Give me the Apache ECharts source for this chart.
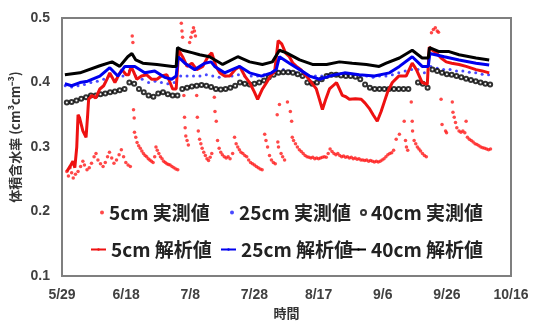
<!DOCTYPE html>
<html>
<head>
<meta charset="utf-8">
<script src="https://cdn.jsdelivr.net/npm/echarts@6/dist/echarts.min.js"></script>
<style>
  html, body { margin: 0; padding: 0; background: #fff; }
  #chart { width: 533px; height: 325px; }
</style>
</head>
<body>
<div id="chart"></div>
<script>
// x = days since 5/29
var dateLabels = ['5/29', '6/18', '7/8', '7/28', '8/17', '9/6', '9/26', '10/16'];
var yTicks = [0.1, 0.2, 0.3, 0.4, 0.5];

// 5cm measured (red dots)
var obs5 = [
  [1.5,0.262],[2,0.255],[2.5,0.268],[3,0.26],[3.5,0.252],[4.2,0.258],[5,0.262],[5.8,0.27],[6.5,0.278],[7,0.272],
  [7.8,0.265],[8.5,0.268],[9.2,0.275],[10,0.285],[10.6,0.29],[11.2,0.28],[12,0.274],[12.8,0.27],[13.5,0.276],[14.2,0.285],
  [14.8,0.292],[15.5,0.283],[16.2,0.275],[17,0.28],[17.8,0.288],[18.5,0.296],[19.2,0.285],[19.9,0.276],[20.6,0.272],[21.3,0.27],
  [21.9,0.472],[22.1,0.462],[22.3,0.358],[22.5,0.345],[22.6,0.323],[23,0.315],[23.4,0.307],[23.9,0.302],[24.4,0.298],[24.9,0.294],
  [25.4,0.29],[25.9,0.287],[26.4,0.285],[26.9,0.282],[27.4,0.28],[27.9,0.278],[28.4,0.276],[28.9,0.285],[29.3,0.30],[29.7,0.295],
  [30.2,0.29],[30.7,0.285],[31.2,0.282],[31.7,0.278],[32.2,0.276],[32.7,0.274],[33.2,0.273],[33.7,0.272],[34.3,0.27],[34.9,0.268],
  [35.5,0.266],[36.1,0.265],
  [37.2,0.492],[37.4,0.48],[37.6,0.47],[38,0.38],[38.2,0.346],[38.4,0.33],[38.6,0.317],[39,0.31],[39.4,0.303],
  [39.8,0.462],[40.2,0.47],[40.6,0.478],[41,0.485],[41.3,0.48],[41.6,0.472],[42,0.38],[42.2,0.346],[42.5,0.325],[42.9,0.312],
  [43.3,0.305],[43.7,0.298],[44.2,0.292],[44.7,0.287],[45.2,0.282],[45.7,0.279],[46.2,0.284],[46.7,0.29],
  [47.5,0.377],[47.7,0.355],[48.1,0.34],[48.5,0.31],[49,0.298],[49.5,0.292],[50,0.288],[50.6,0.285],[51.2,0.283],[51.8,0.285],
  [52.4,0.282],[53.2,0.29],[53.8,0.315],[54.3,0.305],[54.8,0.3],[55.3,0.296],[55.8,0.292],[56.4,0.29],[57,0.287],[57.6,0.285],
  [58.2,0.28],[58.8,0.276],[59.4,0.274],[60,0.272],[60.6,0.27],[61.2,0.268],[61.8,0.266],[62.4,0.265],[63.2,0.32],[63.6,0.31],
  [64.1,0.30],[64.7,0.287],[65.3,0.28],[65.9,0.276],[66.5,0.274],[67.1,0.35],[67.3,0.308],[67.5,0.30],[67.8,0.366],[68.3,0.29],
  [68.8,0.285],[69.4,0.28],
  [70.3,0.37],[71.2,0.355],[71.6,0.34],[71.8,0.315],[72.2,0.31],[72.8,0.305],[73.4,0.30],[74,0.296],[74.6,0.293],[75.2,0.29],
  [75.8,0.287],[76.4,0.285],[77,0.284],[77.6,0.283],[78.2,0.284],[78.8,0.282],[79.4,0.283],[80,0.282],[80.6,0.283],[81.2,0.284],
  [81.8,0.285],[82.4,0.284],[83,0.29],[83.6,0.297],[84.2,0.293],[84.8,0.29],[85.4,0.288],[86,0.29],[86.6,0.287],[87.2,0.285],
  [87.8,0.286],[88.4,0.284],[89,0.285],[89.6,0.283],[90.2,0.284],[90.8,0.282],[91.4,0.283],[92,0.281],[92.6,0.282],[93.2,0.28],
  [93.8,0.28],[94.4,0.279],[95,0.28],[95.6,0.278],[96.2,0.279],[96.8,0.278],[97.4,0.277],[98,0.278],[98.6,0.277],[99.2,0.278],
  [99.8,0.28],[100.4,0.282],[101,0.285],[101.6,0.288],[102.2,0.29],[102.8,0.291],[103.4,0.295],[104.2,0.312],[105.2,0.32],[106.7,0.34],
  [107.1,0.31],[107.4,0.30],[107.8,0.295],[108.9,0.37],[109.2,0.34],[109.3,0.325],[109.8,0.31],[110.3,0.305],[110.8,0.30],[111.3,0.297],
  [111.8,0.294],[112.4,0.29],[113,0.287],[113.6,0.285],
  [115.2,0.477],[115.8,0.482],[116.4,0.485],[117,0.48],[117.4,0.478],[118.2,0.374],[118.5,0.335],[119.6,0.325],[119.9,0.322],
  [121.7,0.37],[121.9,0.354],[122.3,0.346],[122.7,0.338],[123.1,0.33],[123.8,0.325],[124.4,0.323],[125,0.325],[125.6,0.322],[126,0.34],
  [126.4,0.315],[127,0.312],[127.6,0.31],[128.2,0.308],[128.8,0.305],[129.4,0.304],[130,0.302],[130.6,0.30],[131.2,0.299],[131.8,0.298],
  [132.4,0.297],[133,0.296],[133.6,0.297]
];

// 25cm measured (blue dots)
var obs25 = [
  [1,0.395],[3,0.393],[5,0.395],[7,0.397],[9,0.40],[11,0.402],[13,0.405],[15,0.41],[17,0.405],[19,0.41],
  [21,0.418],[23,0.41],[25,0.405],[27,0.40],[29,0.402],[31,0.40],[33,0.398],[35,0.40],[37,0.41],[39,0.41],
  [41,0.41],[43,0.41],[45,0.412],[47,0.41],[49,0.408],[51,0.41],[53,0.41],[55,0.412],[57,0.41],[59,0.41],
  [61,0.41],[63,0.412],[65,0.413],[67,0.418],[69,0.42],[71,0.418],[73,0.415],[75,0.412],[77,0.41],[79,0.41],
  [81,0.41],[83,0.412],[85,0.413],[87,0.413],[89,0.412],[91,0.412],[93,0.41],[95,0.41],[97,0.408],[99,0.41],
  [101,0.41],[103,0.412],[105,0.415],[107,0.418],[109,0.42],[111,0.42],[113,0.415],[115,0.425],[117,0.422],[119,0.42],
  [121,0.42],[123,0.418],[125,0.418],[127,0.416],[129,0.415],[131,0.413],[133,0.412]
];

// 40cm measured (open circles)
var obs40 = [
  [1.5,0.369],[3,0.37],[4.5,0.372],[6,0.375],[7.5,0.377],[9,0.38],[10.5,0.38],[12,0.382],[13.5,0.383],[15,0.385],
  [16.5,0.386],[18,0.388],[19.5,0.39],[21,0.40],[22.5,0.398],[24,0.39],[25.5,0.385],[27,0.38],[28.5,0.378],[30,0.383],
  [31.5,0.385],[33,0.382],[34.5,0.38],[36,0.38],[37.5,0.39],[39,0.392],[40.5,0.394],[42,0.395],[43.5,0.396],[45,0.395],
  [46.5,0.393],[48,0.39],[49.5,0.389],[51,0.39],[52.5,0.392],[54,0.395],[55.5,0.40],[57,0.398],[58.5,0.397],[60,0.398],
  [61.5,0.40],[63,0.403],[64.5,0.408],[66,0.412],[67.5,0.415],[69,0.416],[70.5,0.416],[72,0.415],[73.5,0.413],[75,0.41],
  [76.5,0.40],[78,0.398],[79.5,0.40],[81,0.405],[82.5,0.41],[84,0.412],[85.5,0.412],[87,0.411],[88.5,0.41],[90,0.41],
  [91.5,0.409],[93,0.405],[94.5,0.397],[96,0.392],[97.5,0.39],[99,0.39],[100.5,0.39],[102,0.39],[103.5,0.39],[105,0.39],
  [106.5,0.39],[108,0.39],[111,0.40],[112.5,0.398],[114,0.392],[115.5,0.42],[117,0.418],[118.5,0.415],[120,0.413],[121.5,0.412],
  [123,0.41],[124.5,0.408],[126,0.406],[127.5,0.404],[129,0.402],[130.5,0.40],[132,0.398],[133.5,0.397]
];

// simulated
var sim5 = [
  [1.5,0.262],[2.5,0.27],[3.4,0.278],[4.0,0.268],[4.6,0.30],[5.0,0.35],[5.5,0.345],[6.5,0.325],[7.5,0.315],[8.0,0.35],
  [8.3,0.374],[9.3,0.38],[10.5,0.376],[11.8,0.39],[13,0.395],[14.0,0.405],[14.9,0.415],[16.5,0.40],[17.5,0.41],[18.7,0.42],
  [20,0.412],[20.8,0.412],[21.5,0.425],[22.3,0.417],[23.3,0.405],[24.8,0.41],[26.4,0.412],[28,0.405],[29.6,0.405],[31,0.41],
  [32.7,0.412],[34.5,0.39],[35.6,0.39],[36.4,0.45],[37.6,0.44],[39,0.425],[40.5,0.43],[42,0.42],[43.9,0.425],[45.5,0.44],
  [46.7,0.446],[48,0.425],[49.2,0.415],[50.7,0.41],[52.3,0.41],[54,0.42],[55.4,0.425],[57,0.41],[58.5,0.40],[60,0.385],
  [61.0,0.374],[62.5,0.39],[63.8,0.40],[65,0.41],[66.3,0.417],[67.4,0.465],[68.5,0.46],[69.8,0.445],[70.9,0.44],[72,0.43],
  [73.1,0.425],[74.5,0.42],[76.2,0.41],[77.8,0.40],[79.3,0.39],[80.2,0.375],[81.2,0.358],[82.3,0.375],[83.4,0.39],[84.5,0.395],
  [85.6,0.40],[86.5,0.39],[87.4,0.38],[88.5,0.378],[89.6,0.374],[91.5,0.375],[93.3,0.374],[94.5,0.368],[95.8,0.36],[97,0.35],
  [98.3,0.34],[99.5,0.355],[100.5,0.37],[101.5,0.385],[103.0,0.40],[105,0.41],[107.3,0.41],[109.2,0.43],[110.5,0.42],[112.3,0.40],
  [113.9,0.397],[114.5,0.455],[115.5,0.45],[116.7,0.446],[118.2,0.438],[119.8,0.432],[121.5,0.43],[123.8,0.428],[126,0.425],[129.1,0.42],
  [131,0.418],[133.2,0.415]
];
var sim25 = [
  [0.9,0.398],[3,0.395],[5.6,0.40],[8,0.402],[11.8,0.41],[14.9,0.423],[17.4,0.41],[19.6,0.425],[22.7,0.425],[25.8,0.415],
  [28.9,0.418],[32.0,0.408],[34.2,0.405],[35.6,0.41],[36.2,0.44],[38.3,0.43],[41.4,0.42],[44.5,0.43],[46.5,0.432],[47.6,0.425],
  [50.7,0.415],[53,0.42],[55.4,0.425],[58.5,0.415],[62.2,0.41],[65.3,0.415],[66.8,0.42],[67.8,0.44],[70.9,0.43],[74.1,0.42],
  [77.2,0.41],[80.3,0.405],[83.4,0.41],[88.1,0.415],[92.7,0.412],[97.4,0.41],[102.1,0.415],[105.2,0.425],[109.2,0.44],[112.3,0.425],
  [114.2,0.425],[114.7,0.445],[119.2,0.44],[123.8,0.435],[129.1,0.43],[133.2,0.427]
];
var sim40 = [
  [0.9,0.412],[5.6,0.415],[11.8,0.426],[15.6,0.432],[18,0.425],[20.5,0.44],[21.8,0.445],[23,0.435],[25.2,0.43],[29.6,0.428],
  [34.5,0.425],[35.6,0.425],[36,0.454],[37.6,0.45],[40.8,0.446],[42.9,0.443],[46.0,0.44],[50.1,0.428],[54.8,0.44],[58.5,0.432],
  [62.5,0.428],[65.6,0.432],[67.8,0.45],[70.0,0.446],[74.1,0.435],[78.1,0.428],[82.5,0.428],[86.5,0.432],[90.5,0.43],[94.9,0.428],
  [98.9,0.425],[101.1,0.43],[105.2,0.438],[109.2,0.45],[112.3,0.438],[114.2,0.438],[114.6,0.454],[117.6,0.448],[120.7,0.448],[123.8,0.443],
  [129.1,0.438],[133.2,0.435]
];

var names = ['5cm 実測値', '25cm 実測値', '40cm 実測値', '5cm 解析値', '25cm 解析値', '40cm 解析値'];

var chart = echarts.init(document.getElementById('chart'), null, { renderer: 'canvas' });

var legendText = {
  fontSize: 19,
  fontWeight: 'bold',
  color: '#222',
  fontFamily: 'Noto Sans CJK JP'
};
function oneLegend(name, left, top, w, h) {
  return {
    data: [name], left: left, top: top, padding: 0,
    itemWidth: w, itemHeight: h, itemGap: 0,
    textStyle: legendText, selectedMode: false
  };
}

var option = {
  animation: false,
  backgroundColor: '#fff',
  grid: {
    left: 62, right: 22, top: 18, bottom: 46,
    show: true, borderColor: '#7f7f7f', borderWidth: 2
  },
  legend: [
    oneLegend(names[0], 100, 203, 4, 4),
    oneLegend(names[1], 230, 203, 4, 4),
    oneLegend(names[2], 360, 203, 5, 5),
    oneLegend(names[3], 90, 240, 15, 3),
    oneLegend(names[4], 220, 240, 15, 3),
    oneLegend(names[5], 350, 240, 15, 3)
  ],
  xAxis: {
    type: 'value', min: 0, max: 140, interval: 20,
    name: '時間', nameLocation: 'middle', nameGap: 27,
    nameTextStyle: { fontSize: 13, fontWeight: 'bold', color: '#333', fontFamily: 'Noto Sans CJK JP' },
    axisLine: { show: false }, axisTick: { show: false }, splitLine: { show: false },
    axisLabel: {
      margin: 12, fontSize: 14, fontWeight: 'bold', color: '#404040', fontFamily: 'Liberation Sans',
      formatter: function (v) { return dateLabels[Math.round(v / 20)]; }
    }
  },
  yAxis: {
    type: 'value', min: yTicks[0], max: yTicks[yTicks.length - 1], interval: 0.1,
    axisLine: { show: false }, axisTick: { show: false }, splitLine: { show: false },
    axisLabel: {
      margin: 12, fontSize: 14, fontWeight: 'bold', color: '#404040', fontFamily: 'Liberation Sans',
      formatter: function (v) { return v.toFixed(1); }
    }
  },
  graphic: [{
    type: 'text', x: 15, y: 137, rotation: Math.PI / 2,
    style: {
      text: '体積含水率 (cm³cm⁻³)', align: 'center', verticalAlign: 'middle',
      fontSize: 13, fontWeight: 'bold', fill: '#333', fontFamily: 'Noto Sans CJK JP'
    }
  }],
  series: [
    { name: names[0], type: 'scatter', data: obs5, symbol: 'circle', symbolSize: 3.5,
      itemStyle: { color: '#ff1a1a' } },
    { name: names[1], type: 'scatter', data: obs25, symbol: 'circle', symbolSize: 3,
      itemStyle: { color: '#1a1aff' } },
    { name: names[2], type: 'scatter', data: obs40, symbol: 'emptyCircle', symbolSize: 4,
      itemStyle: { color: '#000', borderColor: '#000', borderWidth: 2 } },
    { name: names[3], type: 'line', data: sim5, symbol: 'none',
      lineStyle: { color: '#ee1111', width: 3 }, itemStyle: { color: '#ee1111' } },
    { name: names[4], type: 'line', data: sim25, symbol: 'none',
      lineStyle: { color: '#0000ee', width: 3 }, itemStyle: { color: '#0000ee' } },
    { name: names[5], type: 'line', data: sim40, symbol: 'none',
      lineStyle: { color: '#000', width: 3 }, itemStyle: { color: '#000' } }
  ]
};

chart.setOption(option);
</script>
</body>
</html>
